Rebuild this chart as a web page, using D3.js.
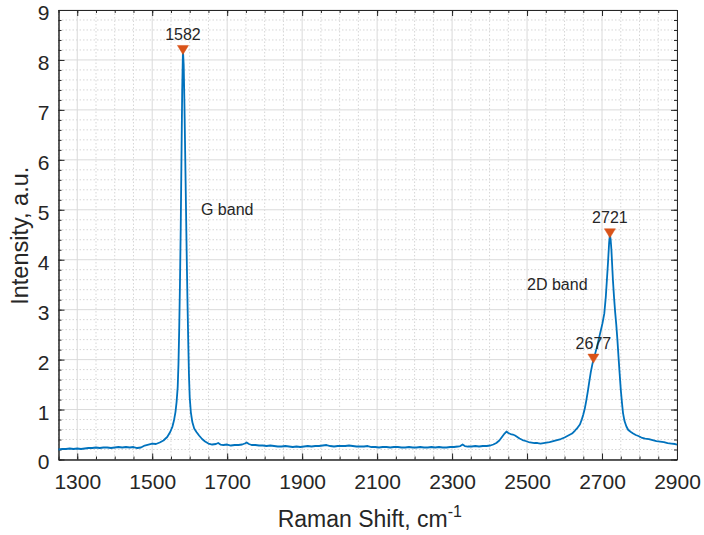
<!DOCTYPE html>
<html><head><meta charset="utf-8">
<script src="https://cdn.jsdelivr.net/npm/d3@7/dist/d3.min.js"></script>
<style>
body{margin:0;background:#fff;}
text{font-family:"Liberation Sans",Arial,Helvetica,sans-serif;fill:#262626;}
</style></head>
<body>
<svg id="chart" width="704" height="535"></svg>
<script>
// ---- data ----
const shift = [1250,1260,1270,1280,1290,1300,1310,1320,1330,1340,1350,1360,1370,1380,1390,1400,1410,1420,1430,1440,1450,1460,1470,1480,1490,1500,1510,1520,1530,1540,1548,1554,1558,1562,1565,1568,1570,1572,1574,1576,1578,1580,1582,1584,1586,1588,1590,1592,1594,1596,1598,1600,1603,1607,1612,1618,1625,1633,1641,1650,1660,1670,1676,1682,1690,1700,1710,1720,1730,1740,1747,1752,1758,1765,1775,1785,1795,1805,1815,1825,1835,1845,1855,1865,1875,1885,1895,1905,1915,1925,1935,1945,1955,1965,1975,1985,1995,2005,2015,2025,2035,2045,2055,2065,2075,2085,2095,2105,2115,2125,2135,2145,2155,2165,2175,2185,2195,2205,2215,2225,2235,2245,2255,2265,2275,2285,2295,2305,2315,2322,2328,2334,2342,2352,2362,2372,2382,2392,2402,2410,2418,2426,2434,2440,2445,2450,2456,2462,2468,2474,2480,2488,2496,2504,2512,2520,2528,2536,2544,2552,2560,2570,2580,2590,2600,2610,2620,2628,2635,2641,2646,2650,2654,2658,2662,2666,2670,2674,2677,2681,2686,2691,2696,2701,2706,2710,2713,2716,2719,2721,2723,2725,2727,2729,2732,2735,2738,2741,2744,2747,2750,2753,2756,2760,2765,2770,2777,2783,2790,2797,2805,2815,2825,2835,2845,2855,2865,2875,2885,2895,2900];
const intensity = [0.20,0.21,0.21,0.22,0.21,0.22,0.21,0.22,0.23,0.23,0.24,0.23,0.24,0.24,0.23,0.24,0.25,0.24,0.25,0.24,0.25,0.23,0.24,0.28,0.30,0.32,0.31,0.34,0.38,0.45,0.55,0.66,0.78,0.95,1.15,1.45,1.9,2.6,3.5,4.6,6.0,7.4,8.2,7.9,7.1,6.1,5.1,4.1,3.2,2.4,1.7,1.25,0.95,0.75,0.62,0.55,0.48,0.41,0.36,0.32,0.30,0.31,0.33,0.30,0.29,0.30,0.28,0.29,0.29,0.30,0.32,0.34,0.31,0.29,0.29,0.28,0.28,0.27,0.28,0.27,0.26,0.26,0.27,0.26,0.25,0.26,0.25,0.26,0.27,0.26,0.27,0.27,0.28,0.29,0.27,0.26,0.27,0.27,0.27,0.28,0.27,0.26,0.26,0.26,0.27,0.25,0.25,0.24,0.25,0.25,0.24,0.25,0.25,0.24,0.24,0.25,0.24,0.24,0.25,0.24,0.24,0.25,0.24,0.25,0.24,0.24,0.25,0.25,0.26,0.27,0.30,0.27,0.26,0.26,0.27,0.26,0.27,0.27,0.28,0.30,0.33,0.38,0.46,0.52,0.56,0.53,0.51,0.50,0.48,0.45,0.42,0.39,0.37,0.35,0.34,0.33,0.33,0.32,0.33,0.34,0.35,0.37,0.39,0.41,0.44,0.48,0.52,0.58,0.64,0.70,0.80,0.90,1.02,1.18,1.36,1.56,1.75,1.90,2.00,2.10,2.24,2.40,2.56,2.72,2.92,3.25,3.60,3.95,4.35,4.50,4.40,4.20,3.90,3.60,3.25,2.95,2.70,2.40,2.05,1.72,1.40,1.15,0.93,0.77,0.66,0.59,0.55,0.52,0.49,0.47,0.44,0.42,0.41,0.39,0.37,0.36,0.35,0.33,0.32,0.31,0.30];
const peakShift = [1582, 2721, 2677];
const peakIntensity = [8.2, 4.53, 2.02];
const peakLabels = ["1582", "2721", "2677"];
const bandLabels = ["G band", "2D band"];
const bandShift = [1630, 2500];
const bandIntensity = [5.0, 3.5];
const xTicks = [1300,1500,1700,1900,2100,2300,2500,2700,2900];
const yTicks = [0,1,2,3,4,5,6,7,8,9];

// ---- layout ----
const L = 58.5, R = 677, T = 10, B = 459.5;
const svg = d3.select("#chart");
const x = d3.scaleLinear().domain([1250, 2900]).range([L, R]);
const y = d3.scaleLinear().domain([0, 9]).range([B, T]);

const xMinor = d3.range(1250, 2900.1, 50);
const yMinor = d3.range(0, 9.001, 0.2).map(v => +v.toFixed(2));

// minor grid (dotted)
svg.append("g").selectAll("line").data(xMinor.filter(v => !xTicks.includes(v))).join("line")
  .attr("x1", d => x(d)).attr("x2", d => x(d)).attr("y1", T).attr("y2", B)
  .attr("stroke", "#d6d6d6").attr("stroke-width", 1).attr("stroke-dasharray", "1.5,2");
svg.append("g").selectAll("line").data(yMinor.filter(v => Math.abs(v - Math.round(v)) > 0.01)).join("line")
  .attr("y1", d => y(d)).attr("y2", d => y(d)).attr("x1", L).attr("x2", R)
  .attr("stroke", "#d6d6d6").attr("stroke-width", 1).attr("stroke-dasharray", "1.5,2");
// major grid
svg.append("g").selectAll("line").data(xTicks).join("line")
  .attr("x1", d => x(d)).attr("x2", d => x(d)).attr("y1", T).attr("y2", B)
  .attr("stroke", "#dadada").attr("stroke-width", 1);
svg.append("g").selectAll("line").data(yTicks).join("line")
  .attr("y1", d => y(d)).attr("y2", d => y(d)).attr("x1", L).attr("x2", R)
  .attr("stroke", "#dadada").attr("stroke-width", 1);

// axes (inward ticks, box)
const axCol = "#262626";
function styleAxis(g){
  g.select(".domain").attr("stroke", axCol).attr("stroke-width", 1);
  g.selectAll(".tick line").attr("stroke", axCol);
  g.selectAll("text").attr("fill", axCol);
}
const axB = svg.append("g").attr("transform", `translate(0,${B})`)
  .call(d3.axisBottom(x).tickValues(xTicks).tickSize(-6).tickSizeOuter(0).tickPadding(0).tickFormat(d3.format("d")));
axB.selectAll("text").attr("font-size", 21).attr("dy", null).attr("y", 29.5);
styleAxis(axB);
svg.append("g").attr("transform", `translate(0,${B})`)
  .call(d3.axisBottom(x).tickValues(xMinor).tickSize(-3).tickFormat("").tickSizeOuter(0)).call(styleAxis);
svg.append("g").attr("transform", `translate(0,${T})`)
  .call(d3.axisTop(x).tickValues(xTicks).tickSize(-6).tickFormat("").tickSizeOuter(0)).call(styleAxis);
svg.append("g").attr("transform", `translate(0,${T})`)
  .call(d3.axisTop(x).tickValues(xMinor).tickSize(-3).tickFormat("").tickSizeOuter(0)).call(styleAxis);

const axLft = svg.append("g").attr("transform", `translate(${L},0)`)
  .call(d3.axisLeft(y).tickValues(yTicks).tickSize(-6).tickSizeOuter(0).tickPadding(9).tickFormat(d3.format("d")));
axLft.selectAll("text").attr("font-size", 21).attr("dy", "0.45em");
styleAxis(axLft);
svg.append("g").attr("transform", `translate(${L},0)`)
  .call(d3.axisLeft(y).tickValues(yMinor).tickSize(-3).tickFormat("").tickSizeOuter(0)).call(styleAxis);
svg.append("g").attr("transform", `translate(${R},0)`)
  .call(d3.axisRight(y).tickValues(yTicks).tickSize(-6).tickFormat("").tickSizeOuter(0)).call(styleAxis);
svg.append("g").attr("transform", `translate(${R},0)`)
  .call(d3.axisRight(y).tickValues(yMinor).tickSize(-3).tickFormat("").tickSizeOuter(0)).call(styleAxis);

// spectrum line
const pts = shift.map((s, i) => [s, intensity[i]]);
svg.append("path").datum(pts)
  .attr("fill", "none").attr("stroke", "#0072BD").attr("stroke-width", 1.8).attr("stroke-linejoin", "round")
  .attr("d", d3.line().x(d => x(d[0])).y(d => y(d[1])));

// peak markers
const peaks = peakShift.map((s, i) => ({s, v: peakIntensity[i], label: peakLabels[i]}));
svg.append("g").selectAll("path").data(peaks).join("path")
  .attr("transform", d => `translate(${x(d.s)},${y(d.v)})`)
  .attr("d", "M-5.5,-4.5L5.5,-4.5L0,4.5Z")
  .attr("fill", "#D95319").attr("stroke", "#D95319").attr("stroke-width", 0.5);
svg.append("g").selectAll("text").data(peaks).join("text")
  .attr("x", d => x(d.s)).attr("y", d => y(d.v) - 10)
  .attr("text-anchor", "middle").attr("font-size", 16).attr("fill", "#1a1a1a")
  .text(d => d.label);

// band annotations
svg.append("g").selectAll("text").data(bandLabels).join("text")
  .attr("x", (d, i) => x(bandShift[i])).attr("y", (d, i) => y(bandIntensity[i]))
  .attr("dy", "0.35em").attr("font-size", 16).attr("fill", "#1a1a1a")
  .text(d => d);

// axis titles
const xl = svg.append("text").attr("x", (L + R) / 2 + 2).attr("y", 527)
  .attr("text-anchor", "middle").attr("font-size", 23);
xl.append("tspan").text("Raman Shift, cm");
xl.append("tspan").attr("font-size", 16).attr("dy", -10).text("-1");

svg.append("text").attr("transform", `translate(28,${(T + B) / 2 + 1}) rotate(-90)`)
  .attr("text-anchor", "middle").attr("font-size", 23.5).text("Intensity, a.u.");
</script>
</body></html>
